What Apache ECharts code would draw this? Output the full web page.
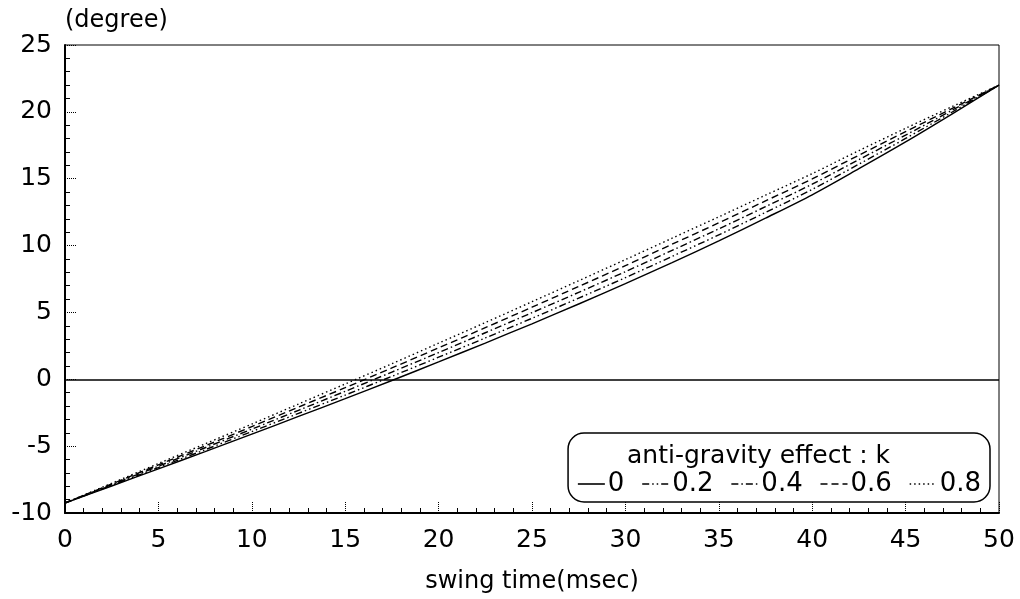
<!DOCTYPE html>
<html>
<head>
<meta charset="utf-8">
<script src="https://cdn.jsdelivr.net/npm/echarts@6/dist/echarts.min.js"></script>
<style>html,body{margin:0;padding:0;background:#fff}#c{width:1020px;height:599px}</style>
</head>
<body>
<div id="c"></div>
<script>
// swing time (msec)
const times = [0, 2.5, 5, 7.5, 10, 12.5, 15, 17.5, 20, 22.5, 25, 27.5, 30, 32.5, 35, 37.5, 40, 42.5, 45, 47.5, 50];
// angle (degree) for each anti-gravity effect k
const k0   = [-9.25, -7.98, -6.70, -5.41, -4.10, -2.78, -1.45, -0.09, 1.30, 2.71, 4.15, 5.63, 7.15, 8.73, 10.35, 12.05, 13.80, 15.75, 17.75, 19.85, 22.0];
const k02  = [-9.25, -7.93, -6.60, -5.27, -3.91, -2.55, -1.18, 0.22, 1.65, 3.09, 4.56, 6.07, 7.60, 9.19, 10.80, 12.48, 14.20, 16.09, 18.01, 19.99, 22.0];
const k04  = [-9.25, -7.88, -6.50, -5.12, -3.73, -2.32, -0.90, 0.54, 2.00, 3.48, 4.98, 6.50, 8.05, 9.64, 11.25, 12.91, 14.59, 16.43, 18.26, 20.13, 22.0];
const k06  = [-9.25, -7.83, -6.40, -4.98, -3.54, -2.08, -0.63, 0.85, 2.35, 3.86, 5.39, 6.94, 8.50, 10.10, 11.70, 13.34, 14.99, 16.76, 18.52, 20.26, 22.0];
const k08  = [-9.25, -7.78, -6.30, -4.83, -3.35, -1.85, -0.35, 1.16, 2.70, 4.24, 5.80, 7.37, 8.95, 10.55, 12.15, 13.77, 15.38, 17.10, 18.77, 20.40, 22.0];
const kLabels = ['0', '0.2', '0.4', '0.6', '0.8'];
const kValues = [k0, k02, k04, k06, k08];
const dashes = ['solid', [7, 3, 1.5, 3, 1.5, 3], [7, 3, 1.5, 3], [7, 4], [1.5, 3]];
const xTicks = [0, 50, 5];
const yTicks = [-10, 25, 5];

const FONT = '"DejaVu Sans", "Liberation Sans", Arial, sans-serif';
const chart = echarts.init(document.getElementById('c'), null, {renderer: 'canvas'});

const series = kLabels.map((name, i) => ({
  name: name,
  type: 'line',
  data: times.map((t, j) => [t, kValues[i][j]]),
  symbol: 'none',
  smooth: 0.3,
  silent: true,
  lineStyle: {color: '#000', width: 1.4, type: dashes[i]},
  itemStyle: {color: '#000'},
  z: 3
}));
series[0].markLine = {
  silent: true,
  symbol: ['none', 'none'],
  label: {show: false},
  lineStyle: {color: '#000', width: 1.6, type: 'solid'},
  data: [{yAxis: 0}]
};

const axisCommon = {
  type: 'value',
  axisLine: {show: true, onZero: false, lineStyle: {color: '#000', width: 2}},
  axisTick: {show: true, inside: true, length: 12, lineStyle: {color: '#000', width: 1, type: 'dotted'}},
  minorTick: {show: true, splitNumber: 5, length: 5, lineStyle: {color: '#000', width: 1}},
  splitLine: {show: false},
  axisLabel: {color: '#000', fontFamily: FONT, fontSize: 25}
};

chart.setOption({
  animation: false,
  backgroundColor: '#fff',
  grid: {left: 65, right: 21, top: 45, bottom: 86, show: true, borderColor: '#000', borderWidth: 1, backgroundColor: 'transparent'},
  xAxis: Object.assign({}, axisCommon, {
    min: xTicks[0], max: xTicks[1], interval: xTicks[2],
    name: 'swing time(msec)', nameLocation: 'middle', nameGap: 57,
    nameTextStyle: {color: '#000', fontFamily: FONT, fontSize: 24},
    axisLabel: Object.assign({}, axisCommon.axisLabel, {margin: 15})
  }),
  yAxis: Object.assign({}, axisCommon, {
    min: yTicks[0], max: yTicks[1], interval: yTicks[2],
    name: '(degree)', nameLocation: 'end', nameGap: 12,
    nameTextStyle: {color: '#000', fontFamily: FONT, fontSize: 24, align: 'left'},
    axisLabel: Object.assign({}, axisCommon.axisLabel, {margin: 13})
  }),
  legend: {
    data: kLabels,
    right: 30, bottom: 97,
    orient: 'horizontal',
    itemWidth: 27, itemHeight: 14, itemGap: 17,
    padding: [38, 9, 5, 9],
    borderColor: '#000', borderWidth: 1.5, borderRadius: 16,
    backgroundColor: '#fff',
    itemStyle: {opacity: 0, color: 'rgba(0,0,0,0)', borderWidth: 0},
    lineStyle: {width: 1.6},
    textStyle: {color: '#000', fontFamily: FONT, fontSize: 26, padding: [0, 0, 0, -2]},
    selectedMode: false
  },
  graphic: [{
    type: 'text', left: 627, top: 444, z: 100,
    style: {text: 'anti-gravity effect : k', fill: '#000', font: '25px ' + FONT}
  }],
  series: series
});
</script>
</body>
</html>
